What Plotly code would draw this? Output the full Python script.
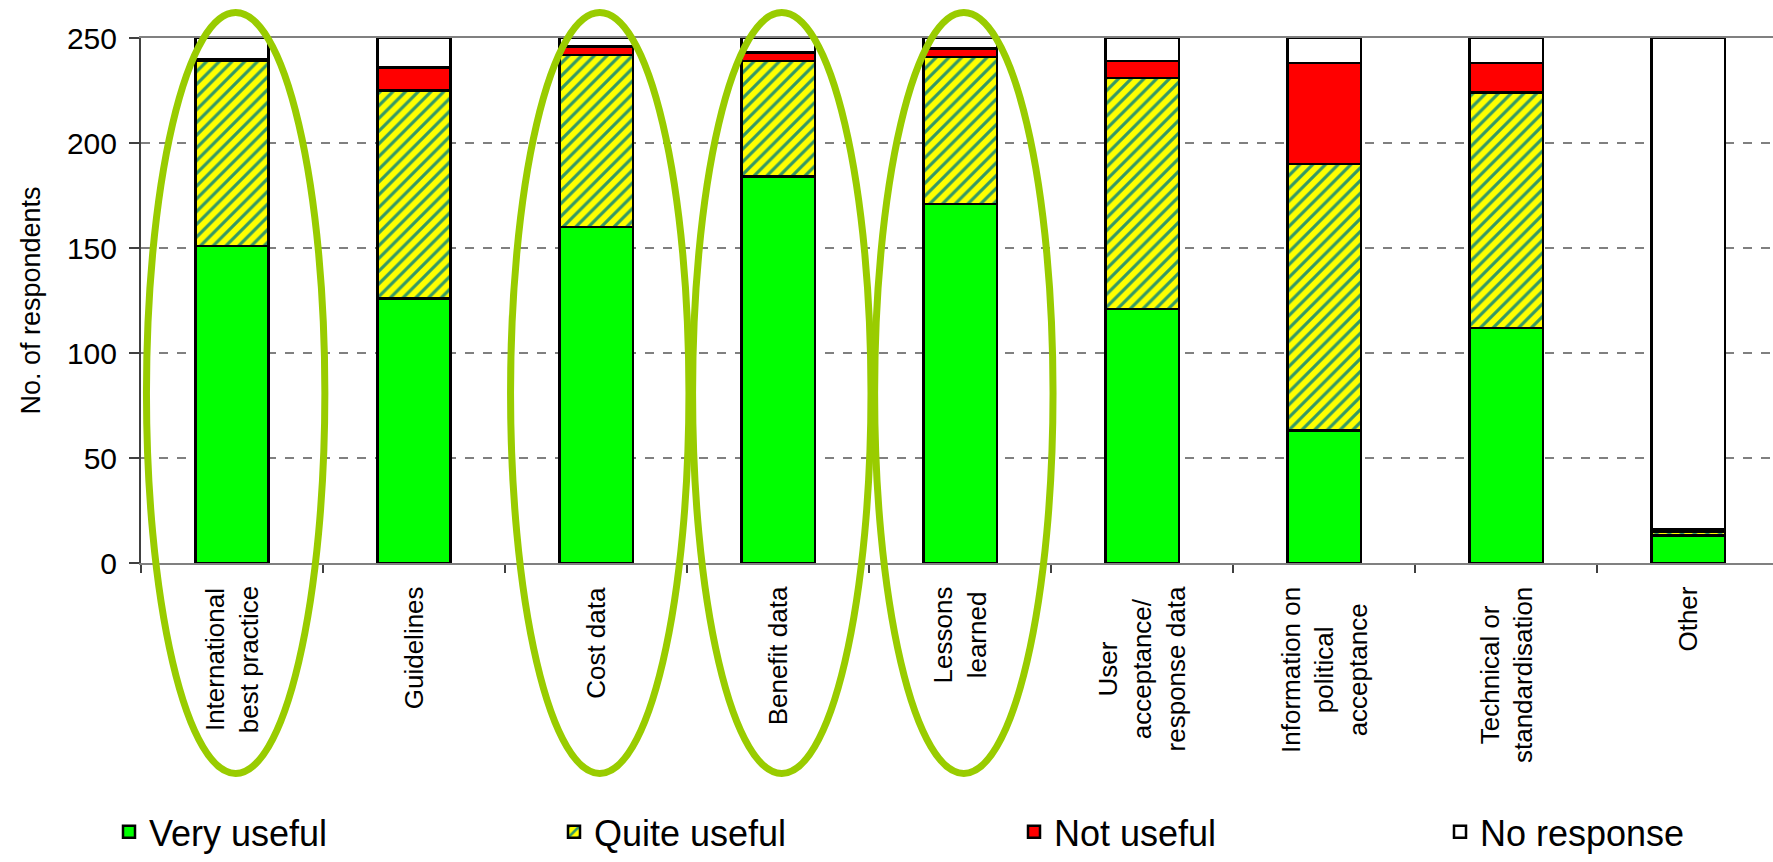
import plotly.graph_objects as go

# ---------------- data ----------------
categories = [
    "International<br>best practice",
    "Guidelines",
    "Cost data",
    "Benefit data",
    "Lessons<br>learned",
    "User<br>acceptance/<br>response data",
    "Information on<br>political<br>acceptance",
    "Technical or<br>standardisation",
    "Other",
]
very_useful = [151, 126, 160, 184, 171, 121, 63, 112, 13]
quite_useful = [88, 99, 82, 55, 70, 110, 127, 112, 2]
not_useful = [1, 11, 4, 4, 4, 8, 48, 14, 1]
no_response = [10, 14, 4, 7, 5, 11, 12, 12, 234]
series_names = ["Very useful", "Quite useful", "Not useful", "No response"]
y_ticks = [0, 50, 100, 150, 200, 250]
highlighted = [0, 2, 3, 4]  # categories circled in green

# ---------------- style ----------------
FONT = "Arial, Liberation Sans, sans-serif"
X_RANGE = [-0.5, 8.465]
Y_RANGE = [0, 250]
W, H = 1773, 862
M = dict(l=141, r=0, t=38, b=292)
plot_w = W - M["l"] - M["r"]
plot_h = H - M["t"] - M["b"]

fig = go.Figure()

series = [very_useful, quite_useful, not_useful, no_response]
colors = ["#00FF00", "#FFFF00", "#FF0000", "#FFFFFF"]
legend_ids = ["legend", "legend2", "legend3", "legend4"]
for name, vals, col, lg in zip(series_names, series, colors, legend_ids):
    marker = dict(color=col, line=dict(color="#000000", width=2.5))
    if name == "Quite useful":
        marker["pattern"] = dict(shape="/", bgcolor="#FFFF00", fgcolor="#339966",
                                 size=9, solidity=0.35, fillmode="replace")
    fig.add_trace(go.Bar(x=categories, y=vals, name=name, marker=marker,
                         legend=lg, hoverinfo="x+y+name"))

# category labels: rotated, lines centred (as in the original chart)
for cat in categories:
    fig.add_annotation(x=cat, xref="x", y=-22 / plot_h, yref="paper",
                       text=cat, textangle=-90, xanchor="center", yanchor="top",
                       align="center", showarrow=False,
                       font=dict(family=FONT, size=26, color="#000000"))

# green ellipses around highlighted categories (paper coords from axis scale)
span = X_RANGE[1] - X_RANGE[0]
ysp = Y_RANGE[1] - Y_RANGE[0]
for i in highlighted:
    cx = i + 0.02
    fig.add_shape(type="circle", xref="paper", yref="paper",
                  x0=(cx - 0.49 - X_RANGE[0]) / span, x1=(cx + 0.49 - X_RANGE[0]) / span,
                  y0=(-100.2 - Y_RANGE[0]) / ysp, y1=(262.1 - Y_RANGE[0]) / ysp,
                  line=dict(color="#99CC00", width=7), layer="above")

legend_px = [129, 574, 1034, 1460]  # symbol centres in px
legend_layout = {}
for lg, px in zip(legend_ids, legend_px):
    legend_layout[lg] = dict(
        x=(px - 20 - M["l"]) / plot_w, xanchor="left",
        y=-0.512, yanchor="middle", orientation="h",
        font=dict(family=FONT, size=36, color="#000000"),
        bgcolor="rgba(0,0,0,0)", borderwidth=0,
    )

fig.update_layout(
    width=W, height=H, margin=M,
    barmode="stack", bargap=0.597,
    plot_bgcolor="#FFFFFF", paper_bgcolor="#FFFFFF",
    font=dict(family=FONT, color="#000000"),
    showlegend=True,
    **legend_layout,
)
fig.update_xaxes(
    range=X_RANGE, type="category", tickson="boundaries",
    ticks="outside", ticklen=8, tickwidth=1.5, tickcolor="#404040",
    showline=True, linecolor="#808080", linewidth=2, mirror=True,
    showticklabels=False, showgrid=False,
)
fig.update_yaxes(
    range=Y_RANGE, tickvals=y_ticks,
    ticks="outside", ticklen=10, tickwidth=1.5, tickcolor="#404040",
    showline=True, linecolor="#404040", linewidth=2,
    showgrid=True, gridcolor="#808080", gridwidth=1.5, griddash="dash",
    zeroline=False,
    tickfont=dict(family=FONT, size=30, color="#000000"),
    ticklabelstandoff=6,
    title=dict(text="No. of respondents", font=dict(family=FONT, size=27, color="#000000"),
               standoff=18),
)

fig.write_html("out.html", config={"displayModeBar": False},
               post_script="document.body.style.margin='0';")
